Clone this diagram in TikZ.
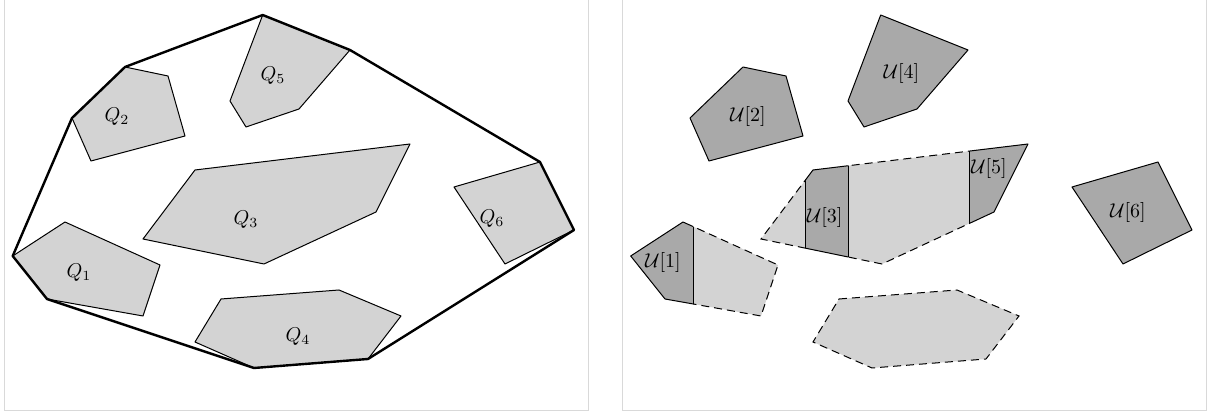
\documentclass[tikz,border=0pt]{standalone}
\definecolor{PieceLight}{RGB}{211, 211, 211}
\definecolor{PieceDark}{RGB}{169, 169, 169}
\definecolor{PanelGray}{RGB}{217, 217, 217}
\usepackage{tikz}
\usepackage{amsmath}

% the six pieces, in pixel units
\newcommand{\pieceOne}{(12.7,256) -- (65,222) -- (160,265) -- (143,316) -- (47,299) -- cycle}
\newcommand{\pieceTwo}{(125,67) -- (168,76) -- (185,136) -- (91,161) -- (72,118) -- cycle}
\newcommand{\pieceThree}{(195,170) -- (410,144) -- (376,212) -- (264,264) -- (143,239) -- cycle}
\newcommand{\pieceFour}{(221,299) -- (339,290) -- (401,316) -- (368,359) -- (254,368) -- (195,342) -- cycle}
\newcommand{\pieceFive}{(262.7,15) -- (350,50) -- (299,109) -- (246,127) -- (230,101) -- cycle}
\newcommand{\pieceSix}{(454,187) -- (540,162) -- (574,230) -- (505,264) -- cycle}

\begin{document}
\begin{tikzpicture}[x=0.5pt, y=-0.5pt,
    piece/.style={fill=PieceLight, draw=black, line width=0.5pt, line join=round},
    darkpiece/.style={fill=PieceDark, draw=black, line width=0.5pt, line join=round},
    cutedge/.style={draw=black, line width=0.5pt, dash pattern=on 4pt off 2.5pt},
    hull/.style={draw=black, line width=1.2pt, line join=round},
    panel/.style={draw=PanelGray, line width=0.75pt}]
    \useasboundingbox (0,0) rectangle (1211,415);
    \draw[panel] (4.5,-10) rectangle (588.5,410.5);
    \draw[panel] (622.5,-10) rectangle (1206.5,410.5);

    % left panel: pieces Q and their hull
    \path[piece] \pieceOne;
    \path[piece] \pieceTwo;
    \path[piece] \pieceThree;
    \path[piece] \pieceFour;
    \path[piece] \pieceFive;
    \path[piece] \pieceSix;
    \draw[hull] (262.7,15) -- (350,50) -- (540,162) -- (574,230) -- (368,359) -- (254,368)
      -- (47,299) -- (12.7,256) -- (72,118) -- (125,67) -- cycle;
    \node (q1) at (79,273) {$Q_1$};
    \node (q2) at (117,117) {$Q_2$};
    \node (q3) at (246,220) {$Q_3$};
    \node (q4) at (298,337) {$Q_4$};
    \node (q5) at (273,76) {$Q_5$};
    \node (q6) at (492,219) {$Q_6$};

    % right panel: the pieces again, with the parts U
    \begin{scope}[xshift=309pt]
      \path[darkpiece] \pieceTwo;
      \path[darkpiece] \pieceFive;
      \path[darkpiece] \pieceSix;
      \fill[PieceLight] \pieceFour;
      \draw[cutedge] \pieceFour;

      % Q1 with U[1] cut off
      \fill[PieceLight] \pieceOne;
      \begin{scope}
        \clip (0,0) rectangle (75,415);
        \path[darkpiece] \pieceOne;
      \end{scope}
      \begin{scope}
        \clip (75,0) rectangle (600,415);
        \draw[cutedge] \pieceOne;
      \end{scope}
      \begin{scope}
        \clip \pieceOne;
        \draw[line width=0.5pt] (75,0) -- (75,415);
      \end{scope}

      % Q3 with U[3] and U[5] cut off
      \fill[PieceLight] \pieceThree;
      \begin{scope}
        \clip (187,0) rectangle (230,415) (351,0) rectangle (600,415);
        \path[darkpiece] \pieceThree;
      \end{scope}
      \begin{scope}
        \clip (0,0) rectangle (187,415) (230,0) rectangle (351,415);
        \draw[cutedge] \pieceThree;
      \end{scope}
      \begin{scope}
        \clip \pieceThree;
        \draw[line width=0.5pt] (187,0) -- (187,415) (230,0) -- (230,415) (351,0) -- (351,415);
      \end{scope}

      \node (u1) at (45,263) {$\mathcal{U}[1]$};
      \node (u2) at (130,117) {$\mathcal{U}[2]$};
      \node (u3) at (206.6,218) {$\mathcal{U}[3]$};
      \node (u4) at (283.5,74) {$\mathcal{U}[4]$};
      \node (u5) at (371,169) {$\mathcal{U}[5]$};
      \node (u6) at (510,213) {$\mathcal{U}[6]$};
    \end{scope}
\end{tikzpicture}
\end{document}
